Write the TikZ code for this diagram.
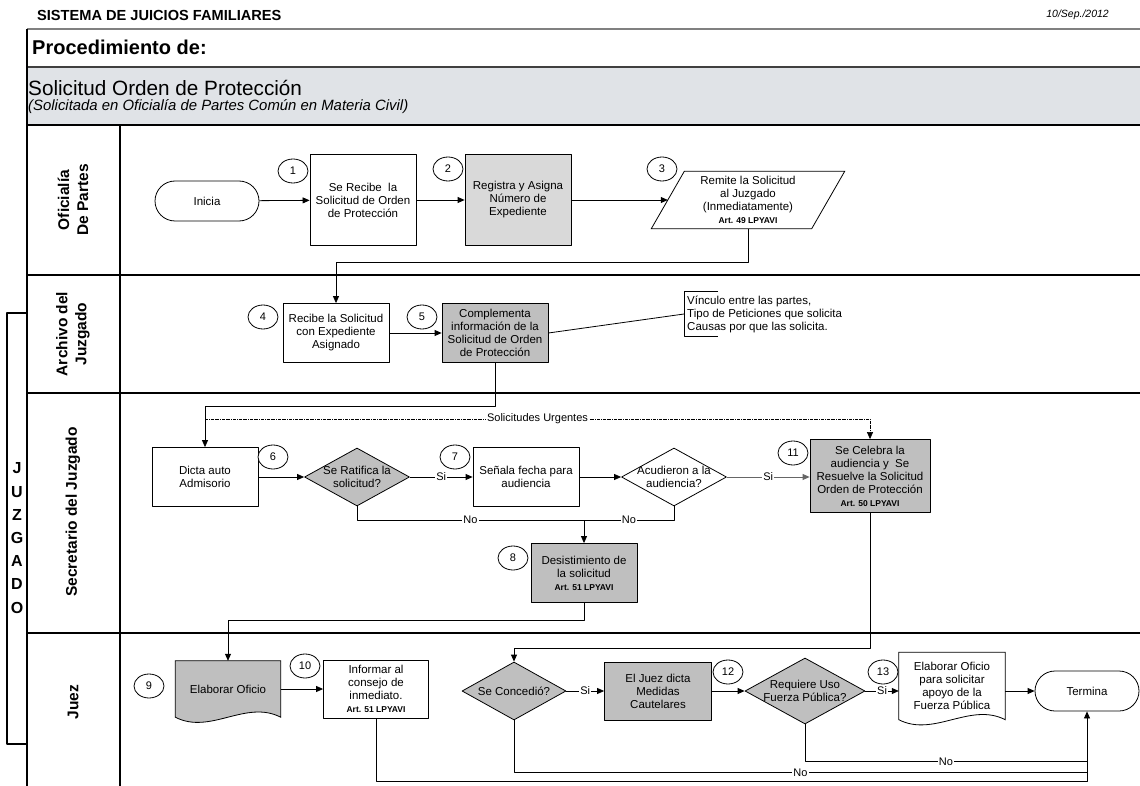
\documentclass[tikz,border=0pt]{standalone}
\usepackage{fontspec}
\setmainfont{Liberation Sans}
\usetikzlibrary{shapes.geometric,arrows.meta,backgrounds}
\definecolor{boxgray}{HTML}{BFBFBF}
\definecolor{palegray}{HTML}{D9D9D9}
\definecolor{bandgray}{HTML}{E0E3E7}
\newcommand{\artref}[1]{{\fontsize{8.5}{10}\selectfont\bfseries #1}}
\begin{document}
\begin{tikzpicture}[x=1pt,y=-1pt,line join=round]
\tikzstyle{lane}=[line width=1.4pt]
\tikzstyle{txt}=[align=center,font=\fontsize{11.5}{13}\selectfont]
\tikzstyle{box}=[txt,draw,fill=white,line width=0.8pt,minimum width=106pt,minimum height=59pt,inner sep=1pt]
\tikzstyle{term}=[txt,draw,fill=white,line width=0.8pt,rounded corners=20pt,minimum width=104pt,minimum height=40pt]
\tikzstyle{dec}=[diamond,draw,fill=boxgray,line width=0.8pt,minimum width=105pt,minimum height=58pt,inner sep=0pt]
\tikzstyle{num}=[ellipse,draw,fill=white,line width=0.8pt,minimum width=30pt,minimum height=24pt,inner sep=0pt,font=\fontsize{11}{13}\selectfont]
\tikzstyle{doc}=[txt,minimum width=105pt,minimum height=56pt,inner sep=1pt]
\tikzstyle{flow}=[draw,line width=0.8pt,-{Triangle[length=7pt,width=6pt]}]
\tikzstyle{link}=[draw,line width=0.8pt]
\tikzstyle{urg}=[draw,line width=0.6pt,densely dash dot,-{Triangle[length=7pt,width=6pt]}]
\tikzstyle{lbl}=[fill=white,inner sep=1pt,font=\fontsize{11}{13}\selectfont]
\tikzstyle{lanelbl}=[rotate=90,align=center,font=\fontsize{15.5}{19}\selectfont\bfseries]
\tikzstyle{hdr}=[anchor=west,inner sep=0pt]

\useasboundingbox (0,0) rectangle (1140,786);
\fill[bandgray] (27,67) rectangle (1140,125);
\draw[line width=2pt,black!50] (27,29) -- (1140,29);
\draw[line width=1.6pt,black!75] (27,67) -- (1140,67);
\draw[lane,fill=white] (7,313) rectangle (27,744);
\foreach \y in {125,275,393,633}
  \draw[lane] (27,\y) -- (1140,\y);
\draw[lane] (27,29) -- (27,786);
\draw[lane] (120,125) -- (120,786);

\node[hdr,font=\fontsize{14.6}{16}\selectfont\bfseries] (tit) at (37,15) {SISTEMA DE JUICIOS FAMILIARES};
\node[hdr,anchor=east,font=\fontsize{10.5}{12}\selectfont\itshape] (fec) at (1109,15) {10/Sep./2012};
\node[hdr,font=\fontsize{20}{22}\selectfont\bfseries] (pro) at (32,47) {Procedimiento de:};
\node[hdr,font=\fontsize{20.7}{22}\selectfont] (sol) at (28,88) {Solicitud Orden de Protección};
\node[hdr,font=\fontsize{14.9}{16}\selectfont\itshape] (sub) at (28,107) {(Solicitada en Oficialía de Partes Común en Materia Civil)};

\node[align=center,font=\fontsize{16}{23.2}\selectfont\bfseries] (juz) at (17,538) {J\\U\\Z\\G\\A\\D\\O};
\node[lanelbl] (l1) at (73,200) {Oficialía\\De Partes};
\node[lanelbl] (l2) at (73,334) {Archivo del\\Juzgado};
\node[lanelbl] (l3) at (73,512) {Secretario del Juzgado};
\node[lanelbl] (l4) at (73,702) {Juez};

\node[term] (ini) at (207,201) {Inicia};
\node[box,minimum height=91pt] (s1) at (363,200) {Se Recibe\ \ la\\Solicitud de Orden\\de Protección};
\node[box,fill=palegray,minimum height=91pt] (s2) at (518,200) {Registra y Asigna\\Número de\\Expediente};
\node[txt,minimum width=160pt,minimum height=57pt,inner sep=0pt] (s3) at (748,200) {Remite la Solicitud\\al Juzgado\\(Inmediatamente)\\\artref{Art. 49 LPYAVI}};
\node[box] (s4) at (336,333) {Recibe la Solicitud\\con Expediente\\Asignado};
\node[box,fill=boxgray] (s5) at (495,333) {Complementa\\información de la\\Solicitud de Orden\\de Protección};
\node[txt,align=left,anchor=west,minimum height=45pt,inner xsep=3pt,inner ysep=0pt] (nt) at (684,314) {Vínculo entre las partes,\\Tipo de Peticiones que solicita\\Causas por que las solicita.};
\node[box] (s6) at (205,477) {Dicta auto\\Admisorio};
\node[dec,label={[txt]center:Se Ratifica la\\solicitud?}] (d1) at (357,477) {};
\node[box] (s7) at (526,477) {Señala fecha para\\audiencia};
\node[dec,fill=white,label={[txt]center:Acudieron a la\\audiencia?}] (d2) at (674,477) {};
\node[box,fill=boxgray,minimum width=120pt,minimum height=73pt] (s11) at (870,476) {Se Celebra la\\audiencia y\ \ Se\\Resuelve la Solicitud\\Orden de Protección\\\artref{Art. 50 LPYAVI}};
\node[box,fill=boxgray] (s8) at (584,573) {Desistimiento de\\la solicitud\\\artref{Art. 51 LPYAVI}};
\node[doc] (s9) at (228,689) {Elaborar Oficio};
\node[box,minimum width=105pt,minimum height=58pt] (s10) at (376,689) {Informar al\\consejo de\\inmediato.\\\artref{Art. 51 LPYAVI}};
\node[dec,minimum width=104pt,label={[txt]center:Se Concedió?}] (d3) at (514,691) {};
\node[box,fill=boxgray,minimum width=107pt,minimum height=58pt] (s12) at (658,691) {El Juez dicta\\Medidas\\Cautelares};
\node[dec,minimum width=120pt,minimum height=66pt,label={[txt]center:Requiere Uso\\Fuerza Pública?}] (d4) at (805,691) {};
\node[doc,minimum width=106pt,minimum height=67pt] (s13) at (952,686) {Elaborar Oficio\\para solicitar\\apoyo de la\\Fuerza Pública};
\node[term] (fin) at (1087,691) {Termina};

\begin{scope}[on background layer]
\filldraw[fill=white,line width=0.8pt] ([xshift=-16.5pt]s3.south west) -- ([xshift=16.5pt]s3.north west) -- ([xshift=16.5pt]s3.north east) -- ([xshift=-16.5pt]s3.south east) -- cycle;
\filldraw[fill=boxgray,line width=0.8pt] (s9.north west) -- (s9.north east) -- (s9.south east) .. controls +(-35,-18) and +(35,18) .. (s9.south west) -- cycle;
\filldraw[fill=white,line width=0.8pt] (s13.north west) -- (s13.north east) -- (s13.south east) .. controls +(-35,-18) and +(35,18) .. (s13.south west) -- cycle;
\end{scope}

\foreach \n/\x/\y in {1/293/171,2/448/169,3/662/169,4/263/317,5/422/317,6/273/457,7/455/457,8/513/558,9/149/686,10/305/666,11/793/453,12/728/672,13/883/672}
  \node[num] (c\n) at (\x,\y) {\n};

\coordinate (u1) at ([yshift=28pt]s6.north);
\coordinate (m8) at ([yshift=23pt]s8.north);
\coordinate (m14) at ([yshift=-50pt]fin.south);
\coordinate (m15) at ([yshift=-61pt]fin.south);
\coordinate (m16) at ([yshift=-70pt]fin.south);

\draw[flow] (ini) -- (s1);
\draw[flow] (s1) -- (s2);
\draw[flow] (s2) -- (s3);
\draw[flow] (s3.south) -- ++(0,34) -| (s4);
\draw[flow] (s4) -- (s5);
\draw[link] (s5.east) -- (nt.west);
\draw[link] ([xshift=34pt]nt.north west) -- (nt.north west) -- (nt.south west) -- ++(34,0);
\draw[flow] (s5.south) -- ++(0,43) -| (s6);
\draw[urg] (u1) -- node[lbl]{Solicitudes Urgentes} (u1 -| s11) -- (s11);
\draw[flow] (s6) -- (d1);
\draw[flow] (d1) -- node[lbl]{Si} (s7);
\draw[flow] (s7) -- (d2);
\draw[flow,draw=black!60] (d2) -- node[lbl]{Si} (d2 -| s11.west);
\draw[link] (d1.south) |- node[lbl,pos=0.75]{No} (m8);
\draw[link] (d2.south) |- node[lbl,pos=0.75]{No} (m8);
\draw[flow] (m8) -- (s8);
\draw[flow] (s8.south) -- ++(0,17) -| (s9);
\draw[flow] (s9) -- (s10);
\draw[flow] (s11.south) -- ++(0,135) -| (d3);
\draw[flow] (d3) -- node[lbl]{Si} (s12);
\draw[flow] (s12) -- (d4);
\draw[flow] (d4) -- node[lbl]{Si} (d4 -| s13.west);
\draw[flow] (s13.east |- fin) -- (fin);
\draw[link] (d4.south) |- node[lbl,pos=0.75]{No} (m14);
\draw[link] (d3.south) |- node[lbl,pos=0.75]{No} (m15);
\draw[flow] (s10.south) |- (m16) -- (fin.south);
\end{tikzpicture}
\end{document}
